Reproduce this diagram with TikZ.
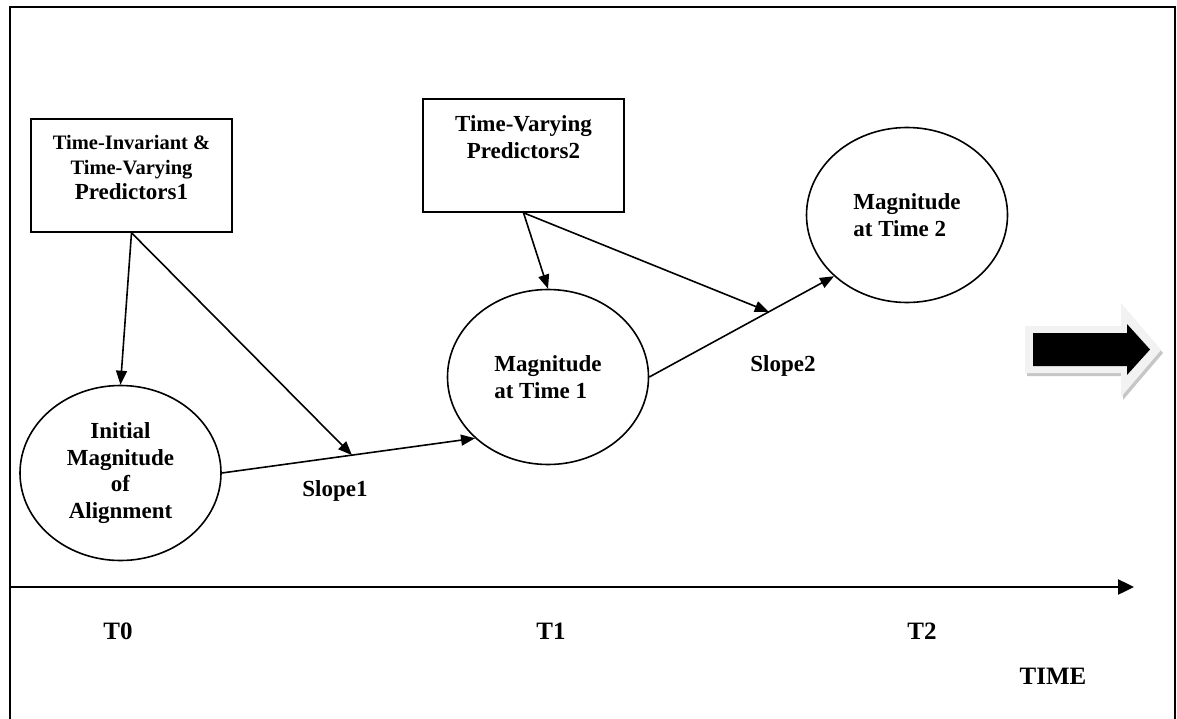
\documentclass[tikz,border=0pt]{standalone}
\usepackage{fontspec}
\setmainfont{Liberation Serif}
\usetikzlibrary{shapes.geometric,arrows.meta,calc}
\begin{document}
\begin{tikzpicture}[x=1pt,y=-1pt,
  conn/.style={line width=1.6pt,-{Triangle[length=14pt,width=11pt]}},
  ell/.style={ellipse,draw,line width=1.6pt,minimum width=201pt,minimum height=175pt,inner sep=0pt,font=\bfseries\fontsize{23}{26.5}\selectfont},
  boxst/.style={rectangle,draw,line width=1.6pt,minimum width=201pt,minimum height=113pt,inner sep=0pt},
  boxtext/.style={align=center,anchor=north,inner sep=0pt},
  lbl/.style={font=\bfseries\fontsize{23}{26.5}\selectfont},
  tlbl/.style={font=\bfseries\fontsize{25}{30}\selectfont},
  axisst/.style={line width=2.4pt,-{Triangle[length=16pt,width=15pt]}},
  frame/.style={line width=2.4pt}]
\useasboundingbox (0,0) rectangle (1177,719);
% outer frame (open at bottom)
\coordinate (fbl) at (10,719);
\coordinate (ftl) at (10,7);
\coordinate (ftr) at (1175,7);
\coordinate (fbr) at (1175,719);
\draw[frame] (fbl) -- (ftl) -- (ftr) -- (fbr);
% boxes
\node[boxst] (box1) at (131.5,175.5) {};
\node[boxtext,font=\bfseries\fontsize{20.5}{25}\selectfont] (box1t) at ($(box1.north)+(0,16.5)$)
  {\fontsize{20.5}{25}\selectfont Time-Invariant \&\\ \fontsize{20.5}{25}\selectfont Time-Varying\\ \fontsize{23}{25}\selectfont Predictors1};
\node[boxst] (box2) at (523.5,155.5) {};
\node[boxtext,font=\bfseries\fontsize{23}{27}\selectfont] (box2t) at ($(box2.north)+(0,17)$)
  {Time-Varying\\Predictors2};
% ellipses
\node[ell,align=center] (e1) at (120.5,473) {Initial\\Magnitude\\of\\Alignment};
\node[ell,align=left] (e2) at (548,377) {Magnitude\\at Time 1};
\node[ell,align=left] (e3) at (907,215) {Magnitude\\at Time 2};
% slopes
\draw[conn] (e1.east) -- (e2.220);
\draw[conn] (e2.east) -- (e3.220);
\coordinate (s1) at ($(e1.east)!0.514!(e2.220)$);
\coordinate (s2) at ($(e2.east)!0.647!(e3.220)$);
\draw[conn] (box1.south) -- (e1.north);
\draw[conn] (box1.south) -- (s1);
\draw[conn] (box2.south) -- (e2.north);
\draw[conn] (box2.south) -- (s2);
\node[lbl] (sl1) at (335,491) {Slope1};
\node[lbl] (sl2) at (783,366) {Slope2};
% big block arrow
\fill[gray!45] (1027,329) -- (1123,329) -- (1123,306) -- (1163,353) -- (1123,400) -- (1123,376) -- (1027,376) -- cycle;
\fill[gray!10] (1025,326) -- (1121,326) -- (1121,303) -- (1161,350) -- (1121,397) -- (1121,373) -- (1025,373) -- cycle;
\fill[black] (1033,333) -- (1127,333) -- (1127,324) -- (1150,349.5) -- (1127,375) -- (1127,366) -- (1033,366) -- cycle;
% time axis
\coordinate (ax0) at (10,587);
\coordinate (ax1) at (1134,587);
\draw[axisst] (ax0) -- (ax1);
\node[tlbl] (t0) at (118,631) {T0};
\node[tlbl] (t1) at (551,631) {T1};
\node[tlbl] (t2) at (922,631) {T2};
\node[tlbl] (time) at (1053,676) {TIME};
\end{tikzpicture}
\end{document}
